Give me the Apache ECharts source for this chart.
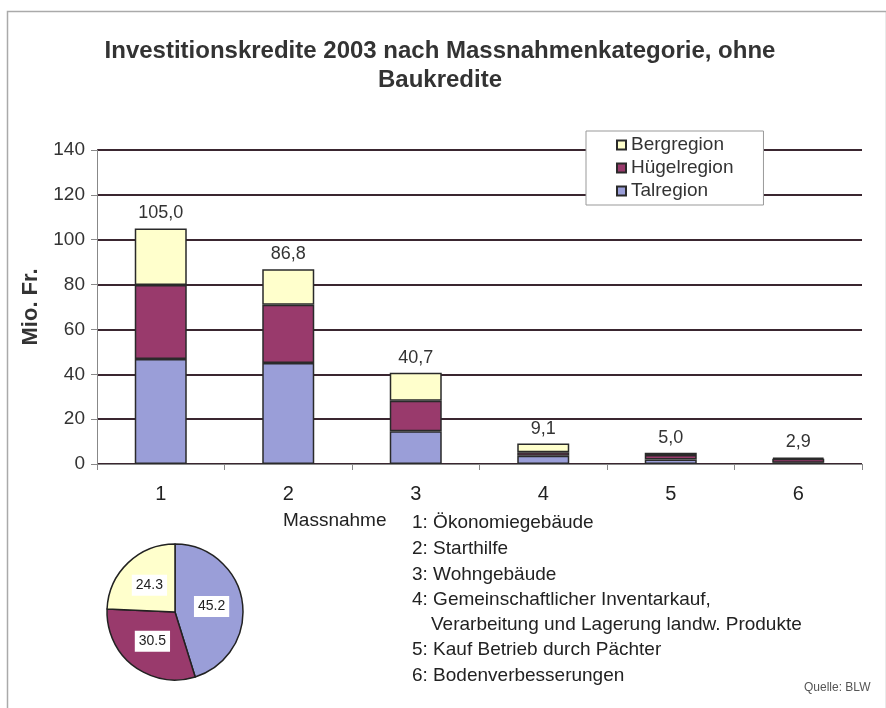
<!DOCTYPE html>
<html>
<head>
<meta charset="utf-8">
<script src="https://cdn.jsdelivr.net/npm/echarts@6/dist/echarts.min.js"></script>
<style>
html,body{margin:0;padding:0;background:#fff;}
#chart{width:886px;height:708px;}
</style>
</head>
<body>
<div id="chart"></div>
<script>
// Daten
var categories = ['1', '2', '3', '4', '5', '6'];
var talregion = [46.8, 45.0, 14.6, 3.7, 2.0, 0.6];
var huegelregion = [33.0, 26.0, 13.6, 1.5, 2.0, 1.7];
var bergregion = [25.2, 15.8, 12.5, 3.9, 1.0, 0.6];
var totals = [105.0, 86.8, 40.7, 9.1, 5.0, 2.9];
var pieNames = ['Talregion', 'Hügelregion', 'Bergregion'];
var pieValues = [45.2, 30.5, 24.3];
var massnahmen = [
    '1: Ökonomiegebäude',
    '2: Starthilfe',
    '3: Wohngebäude',
    '4: Gemeinschaftlicher Inventarkauf,',
    '   Verarbeitung und Lagerung landw. Produkte',
    '5: Kauf Betrieb durch Pächter',
    '6: Bodenverbesserungen'
];

var colTal = '#9a9ed8', colHuegel = '#993a6c', colBerg = '#ffffcc';
var font = 'Arial, "Liberation Sans", sans-serif';

var myChart = echarts.init(document.getElementById('chart'));

// Legende der Massnahmen unten rechts
var listGraphics = [];
var listY = [524, 550, 576, 601, 626, 651, 677];
for (var i = 0; i < massnahmen.length; i++) {
    var indented = massnahmen[i].charAt(0) === ' ';
    listGraphics.push({
        type: 'text',
        left: indented ? 431 : 412,
        top: listY[i] - 11,
        style: { text: massnahmen[i].trim(), font: '19px ' + font, fill: '#222' }
    });
}

var option = {
    backgroundColor: '#fff',
    animation: false,
    title: {
        text: 'Investitionskredite 2003 nach Massnahmenkategorie, ohne\nBaukredite',
        left: 435,
        top: 32,
        textAlign: 'center',
        textStyle: { fontFamily: font, fontSize: 24, fontWeight: 'bold', color: '#333', lineHeight: 29 }
    },
    legend: {
        data: ['Bergregion', 'Hügelregion', 'Talregion'],
        orient: 'vertical',
        left: 586,
        top: 131,
        padding: [4, 30, 4, 30],
        itemGap: 3,
        itemWidth: 9,
        itemHeight: 9,
        icon: 'rect',
        backgroundColor: '#fff',
        borderColor: '#999',
        borderWidth: 1,
        borderRadius: 0,
        textStyle: { fontFamily: font, fontSize: 19, lineHeight: 20, color: '#333' }
    },
    grid: { left: 97, right: 24, top: 150, bottom: 244, containLabel: false },
    xAxis: {
        type: 'category',
        data: categories,
        axisLine: { lineStyle: { color: '#888', width: 1 } },
        axisTick: { show: true, length: 6, lineStyle: { color: '#888' } },
        axisLabel: { fontFamily: font, fontSize: 20, color: '#222', margin: 20 }
    },
    yAxis: {
        type: 'value',
        min: 0,
        max: 140,
        interval: 20,
        name: 'Mio. Fr.',
        nameLocation: 'middle',
        nameGap: 54,
        nameTextStyle: { fontFamily: font, fontSize: 22, fontWeight: 'bold', color: '#333' },
        axisLine: { show: true, lineStyle: { color: '#888' } },
        axisTick: { show: true, length: 6, lineStyle: { color: '#888' } },
        axisLabel: { fontFamily: font, fontSize: 19, color: '#333', margin: 12 },
        splitLine: { lineStyle: { color: '#3a2630', width: 2 } }
    },
    series: [
        {
            name: 'Talregion', type: 'bar', stack: 'r', barWidth: 52, data: talregion,
            itemStyle: { color: colTal, borderColor: '#2a2a2a', borderWidth: 1.5 }
        },
        {
            name: 'Hügelregion', type: 'bar', stack: 'r', data: huegelregion,
            itemStyle: { color: colHuegel, borderColor: '#2a2a2a', borderWidth: 1.5 }
        },
        {
            name: 'Bergregion', type: 'bar', stack: 'r', data: bergregion,
            itemStyle: { color: colBerg, borderColor: '#2a2a2a', borderWidth: 1.5 },
            label: {
                show: true, position: 'top', distance: 6,
                fontFamily: font, fontSize: 18, color: '#333',
                formatter: function (p) { return totals[p.dataIndex].toFixed(1).replace('.', ','); }
            }
        },
        {
            name: 'Anteil', type: 'pie',
            center: [175, 612], radius: 68,
            startAngle: 90, clockwise: true,
            data: pieNames.map(function (n, i) { return { name: n, value: pieValues[i] }; }),
            color: [colTal, colHuegel, colBerg],
            itemStyle: { borderColor: '#222', borderWidth: 1.5 },
            label: {
                show: true, position: 'inside',
                formatter: function (p) { return p.value.toFixed(1); },
                fontFamily: font, fontSize: 14, color: '#222',
                backgroundColor: '#fff', padding: [4, 4, 3, 4]
            },
            labelLine: { show: false },
            emphasis: { disabled: true }
        }
    ],
    graphic: [
        {
            type: 'rect', left: 5, top: 9, z: -10,
            shape: { width: 879, height: 710 },
            style: { fill: 'none', stroke: '#aaa', lineWidth: 1.5 }
        },
        {
            type: 'text', left: 283, top: 511,
            style: { text: 'Massnahme', font: '19px ' + font, fill: '#222' }
        },
        {
            type: 'text', left: 804, top: 682,
            style: { text: 'Quelle: BLW', font: '12px ' + font, fill: '#555' }
        }
    ].concat(listGraphics)
};

myChart.setOption(option, true);
window.onresize = function () { myChart.resize(); };
</script>
</body>
</html>
